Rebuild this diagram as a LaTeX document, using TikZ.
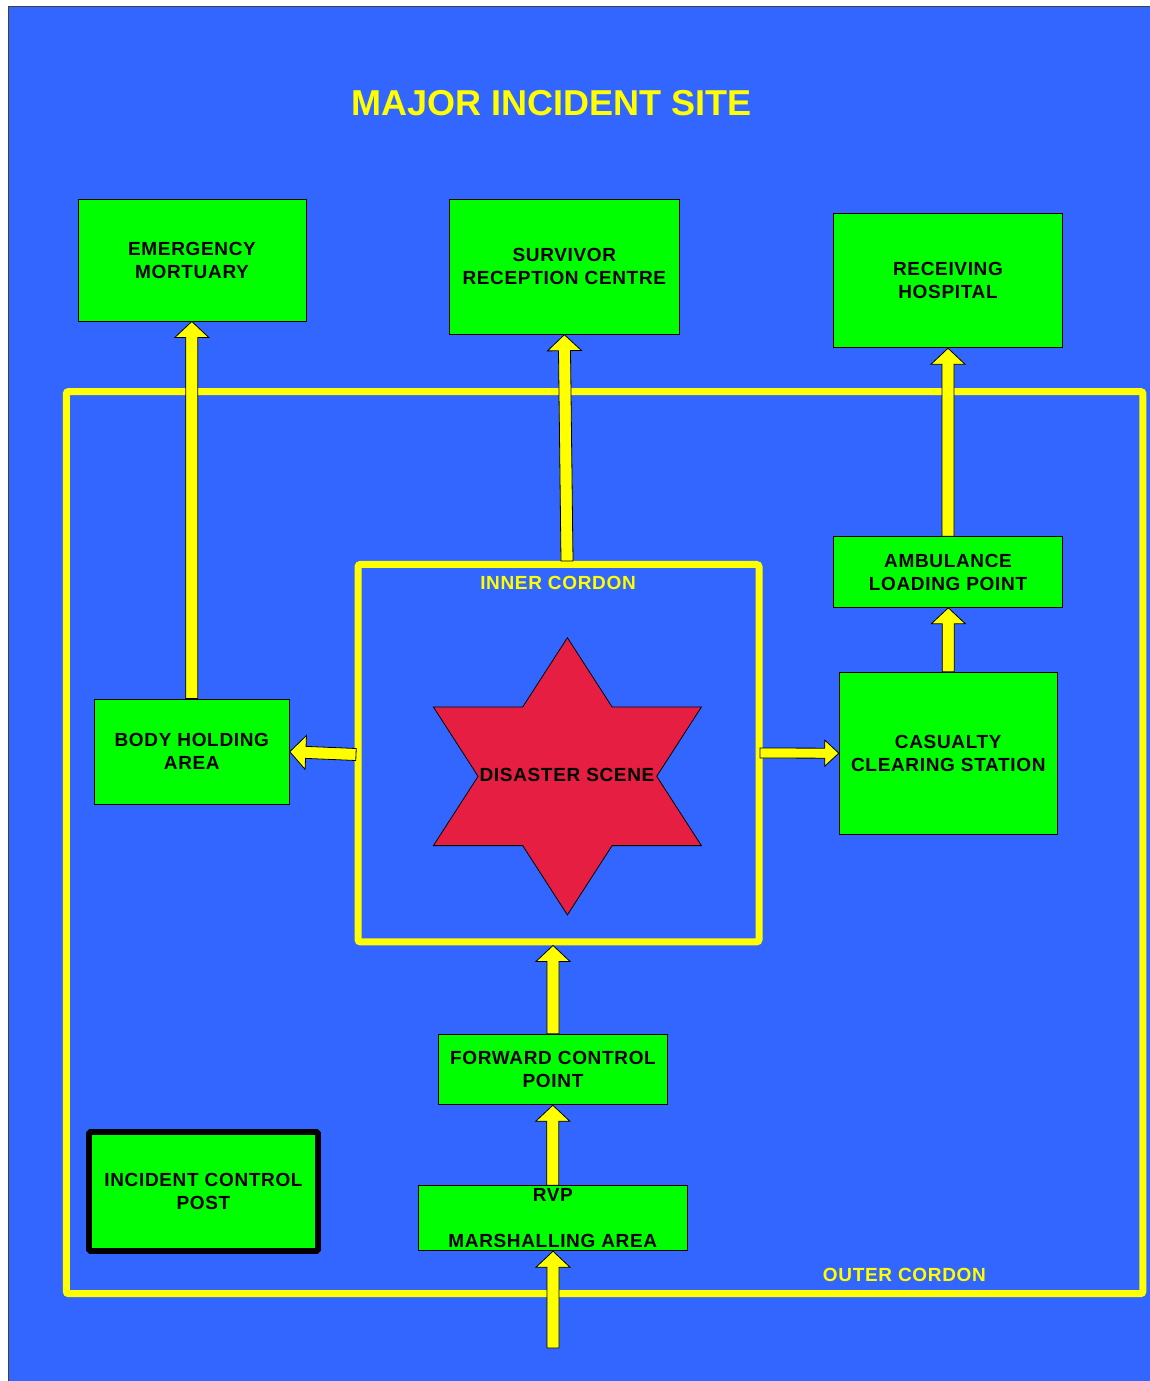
\documentclass[tikz,border=0pt]{standalone}
\usepackage{fontspec}
\usetikzlibrary{calc}
\newfontfamily\labfont{Liberation Sans}[LetterSpace=3.5]
\newfontfamily\titlefont{Liberation Sans}
\definecolor{bgblue}{HTML}{3366FF}
\definecolor{boxgreen}{HTML}{00FF00}
\definecolor{cyellow}{HTML}{FFFF00}
\definecolor{starred}{HTML}{E61E41}

\tikzset{
 bs/.store in=\bs, bh/.store in=\bh, bl/.store in=\bl,
 bs=6, bh=17, bl=16,
 box/.style={rectangle, draw=black, line width=1pt, fill=boxgreen, inner sep=0pt, align=center,
   font=\labfont\bfseries\fontsize{19}{23}\selectfont},
 cordon/.style={rectangle, draw=cyellow, line width=7pt, rounded corners=2.5pt, inner sep=0pt},
 blockarrow/.style={fill=cyellow, draw=black, line width=0.8pt, line join=miter},
 ylabel/.style={text=cyellow, font=\labfont\bfseries\fontsize{19}{23}\selectfont, inner sep=0pt, anchor=base},
}

\newcommand{\barrow}[3][]{%
 \begin{scope}[#1]
 \coordinate (ba) at (#2);
 \coordinate (bb) at (#3);
 \coordinate (bc) at ($(bb)!\bl pt!(ba)$);
 \draw[blockarrow] ($(ba)!\bs pt!90:(bb)$) -- ($(bc)!\bs pt!90:(bb)$) -- ($(bc)!\bh pt!90:(bb)$) -- (bb)
   -- ($(bc)!\bh pt!-90:(bb)$) -- ($(bc)!\bs pt!-90:(bb)$) -- ($(ba)!\bs pt!-90:(bb)$) -- cycle;
 \end{scope}}

\begin{document}
\begin{tikzpicture}[x=1pt,y=-1pt]
\useasboundingbox (0,0) rectangle (1149,1381);
\fill[white] (0,0) rectangle (1149,1381);
\draw[fill=bgblue, draw=black!75, line width=1pt] (8,7) rectangle (1160,1390);

\node[ylabel, font=\titlefont\bfseries\fontsize{36}{40}\selectfont] (title) at (552,115.7) {MAJOR INCIDENT SITE};

% cordons
\node[cordon, minimum width=1076.7pt, minimum height=902.2pt] (outer) at (604.6,842.6) {};
\node[cordon, minimum width=401pt, minimum height=377.5pt] (inner) at (558.5,753.2) {};
\node[ylabel] (innerlab) at (558,589.3) {INNER CORDON};
\node[ylabel] (outerlab) at (904.4,1281) {OUTER CORDON};

% star
\begin{scope}[shift={(567.4,776.3)}]
\draw[fill=starred, draw=black, line width=0.8pt, line join=miter]
 (0,-138.6) -- (44.7,-69.3) -- (134,-69.3) -- (89.3,0) -- (134,69.3) -- (44.7,69.3) -- (0,138.6)
 -- (-44.7,69.3) -- (-134,69.3) -- (-89.3,0) -- (-134,-69.3) -- (-44.7,-69.3) -- cycle;
\end{scope}
\node[font=\labfont\bfseries\fontsize{19}{23}\selectfont, anchor=base, inner sep=0pt] (scene) at (567,781.7) {DISASTER SCENE};

% boxes
\node[box, minimum width=228pt, minimum height=122pt] (mort) at (192,260) {EMERGENCY\\MORTUARY};
\node[box, minimum width=230pt, minimum height=135pt] (surv) at (564.3,266.7) {SURVIVOR\\RECEPTION CENTRE};
\node[box, minimum width=229pt, minimum height=134.7pt] (hosp) at (948,280.4) {RECEIVING\\HOSPITAL};
\node[box, minimum width=229pt, minimum height=70.6pt] (amb) at (948,572) {AMBULANCE\\LOADING POINT};
\node[box, minimum width=218pt, minimum height=161.7pt] (cas) at (948.3,753.2) {CASUALTY\\CLEARING STATION};
\node[box, minimum width=195pt, minimum height=105.3pt] (body) at (191.8,751.7) {BODY HOLDING\\AREA};
\node[box, minimum width=229.4pt, minimum height=70.4pt] (fcp) at (553,1069.5) {FORWARD CONTROL\\POINT};
\node[box, minimum width=269pt, minimum height=65pt] (rvp) at (552.8,1218.2) {};
\node[box, draw=none, fill=none] (rvptext) at (rvp.center) {RVP\\[23pt]MARSHALLING AREA};
\node[box, line width=5.7pt, rounded corners=1.5pt, minimum width=229pt, minimum height=119pt] (icp) at (203.5,1191.5) {INCIDENT CONTROL\\POST};

% arrows
\coordinate (survtail) at (567,561);
\coordinate (bodytail) at (356,754.5);
\coordinate (castail) at (760,753);
\coordinate (entry) at (553,1348);

\barrow{body.north}{body.north |- mort.south}
\barrow{survtail}{surv.south}
\barrow{amb.north}{hosp.south}
\barrow{cas.north}{cas.north |- amb.south}
\barrow{bodytail}{body.east}
\barrow[bs=5,bh=13,bl=14]{castail}{cas.west}
\barrow{fcp.north}{inner.south -| fcp.north}
\barrow{rvp.north}{rvp.north |- fcp.south}
\barrow{entry}{entry |- rvp.south}
\end{tikzpicture}
\end{document}
